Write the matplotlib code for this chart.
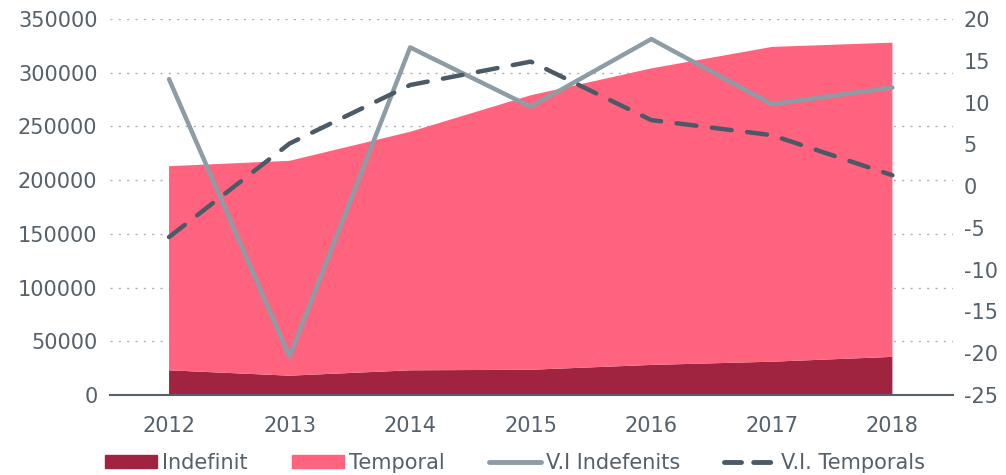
import numpy as np
import matplotlib.pyplot as plt
from matplotlib.patches import Patch
from matplotlib.lines import Line2D

years = [2012, 2013, 2014, 2015, 2016, 2017, 2018]
indefinit = [23000, 18000, 23000, 23500, 28000, 31000, 35500]
temporal = [190000, 200000, 222000, 255500, 276000, 293000, 292500]
vi_indefenits = [12.8, -20.4, 16.6, 9.5, 17.6, 9.8, 11.8]
vi_temporals = [-6.1, 5.1, 12.1, 14.9, 7.9, 6.1, 1.3]

c_indef = '#A0243F'
c_temp = '#FF637D'
c_vi_ind = '#8E9CA6'
c_vi_temp = '#4A5A66'
txt = '#55606A'

plt.rcParams['font.family'] = ['DejaVu Sans']
plt.rcParams['axes.unicode_minus'] = False

fig = plt.figure(figsize=(10.06, 4.75), dpi=100)
ax = fig.add_axes([0.1093, 0.1684, 0.8377, 0.7916])
x = np.arange(len(years))

# dotted grid behind the areas
for v in range(50000, 350001, 50000):
    ax.axhline(v, color='#B0B0B0', lw=1, ls=(0, (1.5, 4.5)), zorder=0)

ax.stackplot(x, indefinit, temporal, colors=[c_indef, c_temp], zorder=1)
ax.set_xlim(-0.49, 6.5)
ax.set_ylim(0, 350000)
ax.set_yticks(range(0, 350001, 50000))
ax.set_xticks(x)
ax.set_xticklabels(years)
for s in ['top', 'right', 'left']:
    ax.spines[s].set_visible(False)
ax.spines['bottom'].set_color('#55606A')
ax.spines['bottom'].set_linewidth(1.5)
ax.tick_params(length=0, labelsize=15, colors=txt)
ax.tick_params(axis='y', pad=9)
ax.tick_params(axis='x', pad=15)

ax2 = ax.twinx()
ax2.plot(x, vi_indefenits, color=c_vi_ind, lw=3.2, solid_capstyle='round', zorder=3)
ax2.plot(x, vi_temporals, color=c_vi_temp, lw=3.2, ls=(0, (4.5, 3.5)), dash_capstyle='round', zorder=3)
ax2.set_ylim(-25, 20)
ax2.set_yticks(range(-25, 21, 5))
for s in ax2.spines.values():
    s.set_visible(False)
ax2.tick_params(length=0, labelsize=15, colors=txt, pad=8)

handles = [
    Patch(color=c_indef, label='Indefinit'),
    Patch(color=c_temp, label='Temporal'),
    Line2D([], [], color=c_vi_ind, lw=3.5, solid_capstyle='round', label='V.I Indefenits'),
    Line2D([], [], color=c_vi_temp, lw=3.5, ls=(0, (3.5, 2.5)), dash_capstyle='round', label='V.I. Temporals'),
]
leg = fig.legend(handles=handles, loc='lower center', bbox_to_anchor=(0.512, -0.035), ncol=4,
                 frameon=False, fontsize=15, handlelength=2.5, handleheight=0.6,
                 handletextpad=0.25, columnspacing=2.1)
for t in leg.get_texts():
    t.set_color(txt)

fig.savefig('out.png', dpi=100)
